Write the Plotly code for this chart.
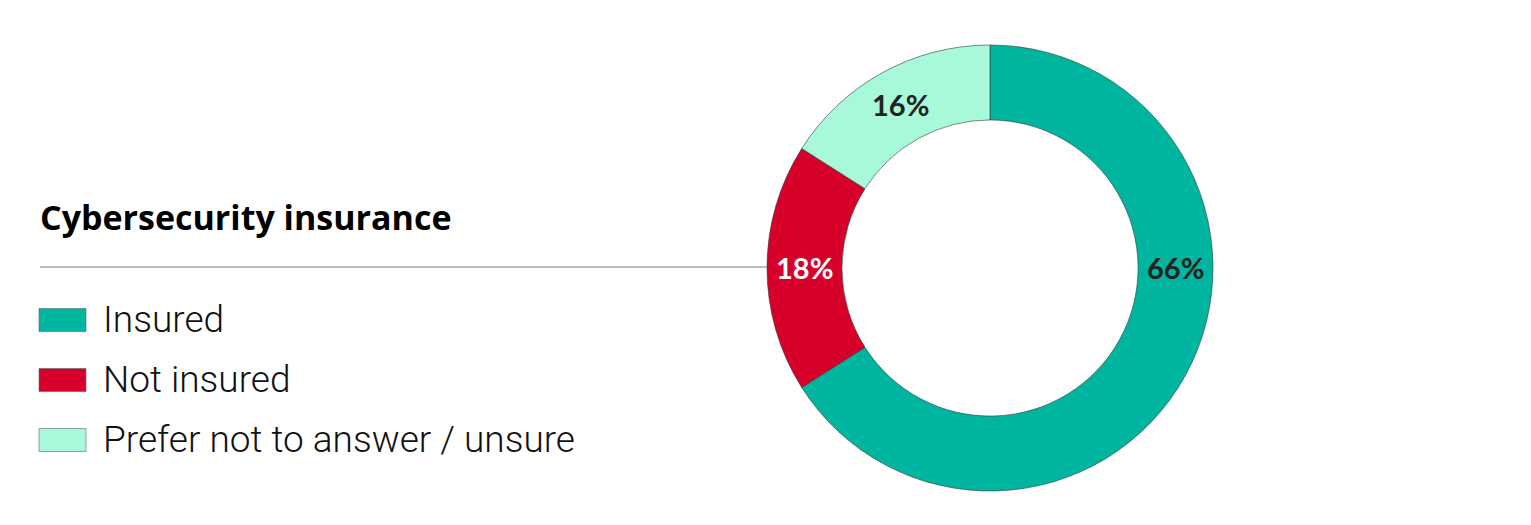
import math
import plotly.graph_objects as go

# ---- data ----
labels = ["Insured", "Not insured", "Prefer not to answer / unsure"]
values = [66, 18, 16]
title_text = "Cybersecurity insurance"

# ---- style ----
colors = ["#00B5A0", "#D6002A", "#A8F9DA"]
label_colors = ["#222222", "#FFFFFF", "#222222"]
W, H = 1531, 525
cx_px, cy_px, r_out = 990, 268, 223
hole = 0.664

fig = go.Figure()
fig.add_trace(go.Pie(
    labels=labels, values=values, sort=False, direction="clockwise", rotation=0,
    hole=hole, marker=dict(colors=colors, line=dict(color="#2a3a3a", width=0.6)),
    textinfo="none", hoverinfo="label+percent", showlegend=False,
    domain=dict(x=[(cx_px - r_out) / W, (cx_px + r_out) / W],
                y=[(H - cy_px - r_out) / H, (H - cy_px + r_out) / H]),
))

# value labels placed on ring (largest slice label at 3 o'clock)
total = sum(values)
r_mid = r_out * (1 + hole) / 2
cum = 0
imax = values.index(max(values))
for i, v in enumerate(values):
    mid = (cum + v / 2) / total * 360
    cum += v
    ang = 90 if i == imax else mid
    x = cx_px + r_mid * math.sin(math.radians(ang))
    y = cy_px - r_mid * math.cos(math.radians(ang)) - 1
    fig.add_annotation(x=x / W, y=1 - y / H, xref="paper", yref="paper",
                       text=f"{round(v / total * 100)}%", showarrow=False,
                       font=dict(family="Lato", size=29, color=label_colors[i], weight="bold"),
                       xanchor="center", yanchor="middle")

# title
fig.add_annotation(x=38 / W, y=1 - 217 / H, xref="paper", yref="paper", text=title_text,
                   showarrow=False, xanchor="left", yanchor="middle",
                   font=dict(family="Open Sans", size=34, color="#000000", weight="bold"))

# separator line
fig.add_shape(type="line", xref="paper", yref="paper", x0=40 / W, x1=(cx_px - r_out) / W,
              y0=1 - 267 / H, y1=1 - 267 / H, line=dict(color="#7a7a7a", width=1))

# legend
row0, step = 320, 60
for i, lab in enumerate(labels):
    yc = row0 + i * step
    fig.add_shape(type="rect", xref="paper", yref="paper",
                  x0=39 / W, x1=86 / W, y0=1 - (yc - 11.5) / H, y1=1 - (yc + 11.5) / H,
                  fillcolor=colors[i], line=dict(color="#5a6a6a", width=0.6))
    fig.add_annotation(x=101 / W, y=1 - (yc - 1) / H, xref="paper", yref="paper", text=lab,
                       showarrow=False, xanchor="left", yanchor="middle",
                       font=dict(family="Roboto", size=37, color="#111111", weight=300))

fig.update_layout(width=W, height=H, margin=dict(l=0, r=0, t=0, b=0),
                  paper_bgcolor="white", plot_bgcolor="white")
fig.write_html("out.html", config={"displayModeBar": False},
               post_script="document.body.style.margin='0';")
